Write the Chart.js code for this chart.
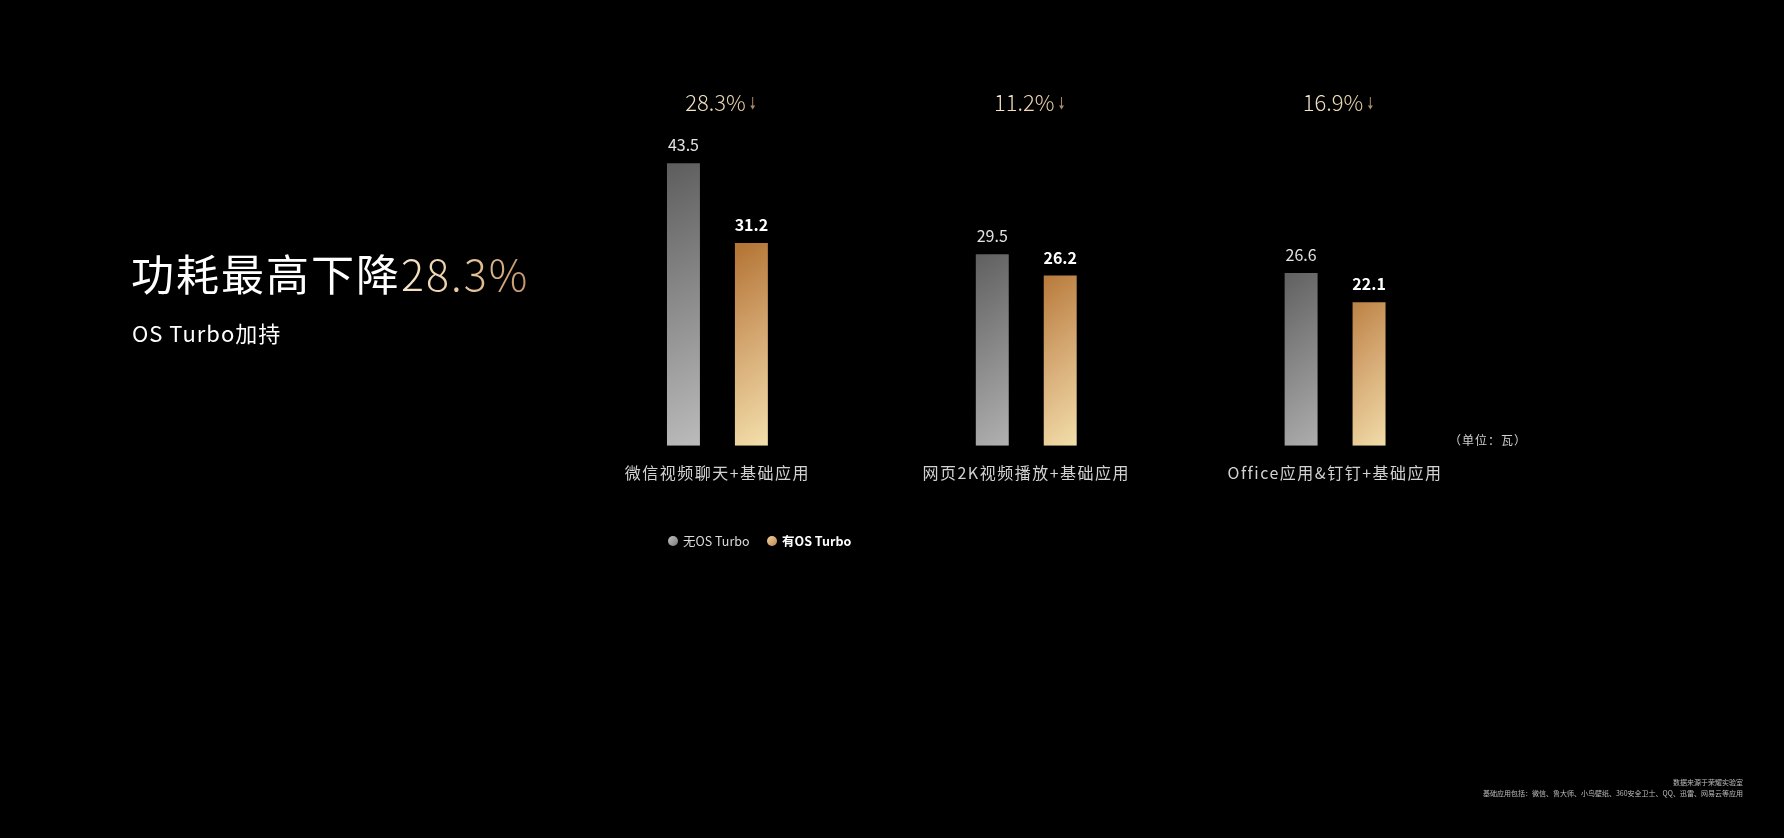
<!DOCTYPE html>
<html>
<head>
<meta charset="utf-8">
<script src="https://cdn.jsdelivr.net/npm/chart.js@4"></script>
<style>
  html, body { margin: 0; padding: 0; background: #000; }
  #wrap { position: relative; width: 1784px; height: 838px; overflow: hidden; }
  canvas { position: absolute; left: 0; top: 0; }
  .title { position: absolute; left: 131px; top: 245px; font: 400 43px 'Noto Sans CJK SC', sans-serif; color: #fff; letter-spacing: 2px; line-height: 54px; white-space: nowrap; }
  .title .pct { background: linear-gradient(90deg, #f6e7cb 0%, #e8c99f 50%, #c4946a 100%); -webkit-background-clip: text; background-clip: text; color: transparent; font-weight: 300; }
  .sub { position: absolute; left: 132px; top: 317px; font: 400 22px 'Noto Sans CJK SC', sans-serif; color: #fff; letter-spacing: 1px; line-height: 30px; }
  .unit { position: absolute; left: 1449px; top: 431px; font: 400 12px 'Noto Sans CJK SC', sans-serif; color: #cfcfcf; letter-spacing: 1px; }
  .foot { position: absolute; right: 41px; top: 777px; font: 400 7px 'Noto Sans CJK SC', sans-serif; color: #bdbdbd; text-align: right; line-height: 11px; }
</style>
</head>
<body>
<div id="wrap">
  <canvas id="barChart" width="1784" height="838"></canvas>
  <div class="title">功耗最高下降<span class="pct">28.3%</span></div>
  <div class="sub">OS Turbo加持</div>
  <div class="unit">（单位：瓦）</div>
  <div class="foot">数据来源于荣耀实验室<br>基础应用包括：微信、鲁大师、小鸟壁纸、360安全卫士、QQ、迅雷、网易云等应用</div>
</div>
<script>
// data
var categories = ['微信视频聊天+基础应用', '网页2K视频播放+基础应用', 'Office应用&钉钉+基础应用'];
var withoutTurbo = [43.5, 29.5, 26.6];
var withTurbo = [31.2, 26.2, 22.1];
var dropLabels = ['28.3%', '11.2%', '16.9%'];
var seriesNames = ['无OS Turbo', '有OS Turbo'];

var FONT = "'Noto Sans CJK SC', sans-serif";

function barGradient(stops, fallback) {
    return function (c) {
        var chart = c.chart;
        if (!chart.chartArea || c.raw == null) return fallback;
        var x = chart.scales.x, y = chart.scales.y;
        var cx = x.getPixelForValue(c.dataIndex);
        var top = y.getPixelForValue(c.raw);
        var bottom = y.getPixelForValue(0);
        var g = chart.ctx.createLinearGradient(cx - 70, top, cx + 70, bottom);
        stops.forEach(function (s) { g.addColorStop(s[0], s[1]); });
        return g;
    };
}

var grayStops = [[0, '#5a5a5a'], [1, '#c9c9c9']];
var goldStops = [[0, '#c4874d'], [0.22, '#b47535'], [0.55, '#d3a56f'], [1, '#f7e6b3']];

// wider spacing for the category labels only
var spacing = {
    id: 'spacing',
    beforeDraw: function (chart) { chart.ctx.letterSpacing = '1.5px'; },
    beforeDatasetsDraw: function (chart) { chart.ctx.letterSpacing = '0px'; }
};

// value labels, drop percentages and legend
var overlay = {
    id: 'overlay',
    afterDatasetsDraw: function (chart) {
        var ctx = chart.ctx;
        ctx.save();
        ctx.letterSpacing = '0px';
        ctx.textAlign = 'center';
        ctx.textBaseline = 'bottom';
        chart.data.datasets.forEach(function (ds, i) {
            var meta = chart.getDatasetMeta(i);
            meta.data.forEach(function (bar, j) {
                ctx.font = (i === 1 ? 'bold ' : '') + '16px ' + FONT;
                ctx.fillStyle = i === 1 ? '#ffffff' : '#e2e2e2';
                ctx.fillText(ds.data[j].toFixed(1), bar.x, bar.y - 10);
            });
        });

        // drop percentage with arrow
        var xs = chart.scales.x;
        dropLabels.forEach(function (t, j) {
            var cx = xs.getPixelForValue(j) - 2;
            ctx.font = '300 22px ' + FONT;
            ctx.textAlign = 'center';
            ctx.textBaseline = 'middle';
            var w = ctx.measureText(t).width;
            var g = ctx.createLinearGradient(cx - w / 2, 0, cx + w / 2, 0);
            g.addColorStop(0, '#f6e5c8');
            g.addColorStop(1, '#e6cba3');
            ctx.fillStyle = g;
            ctx.fillText(t, cx, 103);
            var ax = cx + w / 2 + 7;
            ctx.strokeStyle = '#a88b66';
            ctx.fillStyle = '#a88b66';
            ctx.lineWidth = 1;
            ctx.beginPath();
            ctx.moveTo(ax, 97);
            ctx.lineTo(ax, 108);
            ctx.stroke();
            ctx.beginPath();
            ctx.moveTo(ax - 2.5, 105.5);
            ctx.lineTo(ax + 2.5, 105.5);
            ctx.lineTo(ax, 109.5);
            ctx.closePath();
            ctx.fill();
        });

        // legend
        var lx = chart.chartArea.left + 110, ly = 541;
        var dotColors = [['#7a7a7a', '#c2c2c2'], ['#c0874f', '#efd39f']];
        seriesNames.forEach(function (name, i) {
            var g2 = ctx.createLinearGradient(lx - 5, ly - 5, lx + 5, ly + 5);
            g2.addColorStop(0, dotColors[i][1]);
            g2.addColorStop(1, dotColors[i][0]);
            ctx.fillStyle = g2;
            ctx.beginPath();
            ctx.arc(lx, ly, 5, 0, Math.PI * 2);
            ctx.fill();
            ctx.font = (i === 1 ? 'bold ' : '') + '12.5px ' + FONT;
            ctx.fillStyle = i === 1 ? '#ffffff' : '#dcdcdc';
            ctx.textAlign = 'left';
            ctx.textBaseline = 'middle';
            ctx.fillText(name, lx + 10, ly);
            lx += 99;
        });
        ctx.restore();
    }
};

var ctx = document.getElementById('barChart').getContext('2d');
var myChart = new Chart(ctx, {
    type: 'bar',
    data: {
        labels: categories,
        datasets: [{
            label: seriesNames[0],
            data: withoutTurbo,
            backgroundColor: barGradient(grayStops, '#999999'),
            borderWidth: 0
        }, {
            label: seriesNames[1],
            data: withTurbo,
            backgroundColor: barGradient(goldStops, '#d4a772'),
            borderWidth: 0
        }]
    },
    options: {
        responsive: false,
        animation: false,
        categoryPercentage: 0.44,
        barPercentage: 0.485,
        layout: {
            padding: { left: 563, right: 294.5, top: 121, bottom: 337 }
        },
        plugins: {
            legend: { display: false },
            tooltip: { enabled: false }
        },
        scales: {
            x: {
                grid: { display: false, drawTicks: false },
                border: { display: false },
                ticks: {
                    color: '#d2d2d2',
                    padding: 18,
                    font: { family: FONT, size: 16 }
                }
            },
            y: {
                display: false,
                min: 0,
                max: 50
            }
        }
    },
    plugins: [spacing, overlay]
});
</script>
</body>
</html>
